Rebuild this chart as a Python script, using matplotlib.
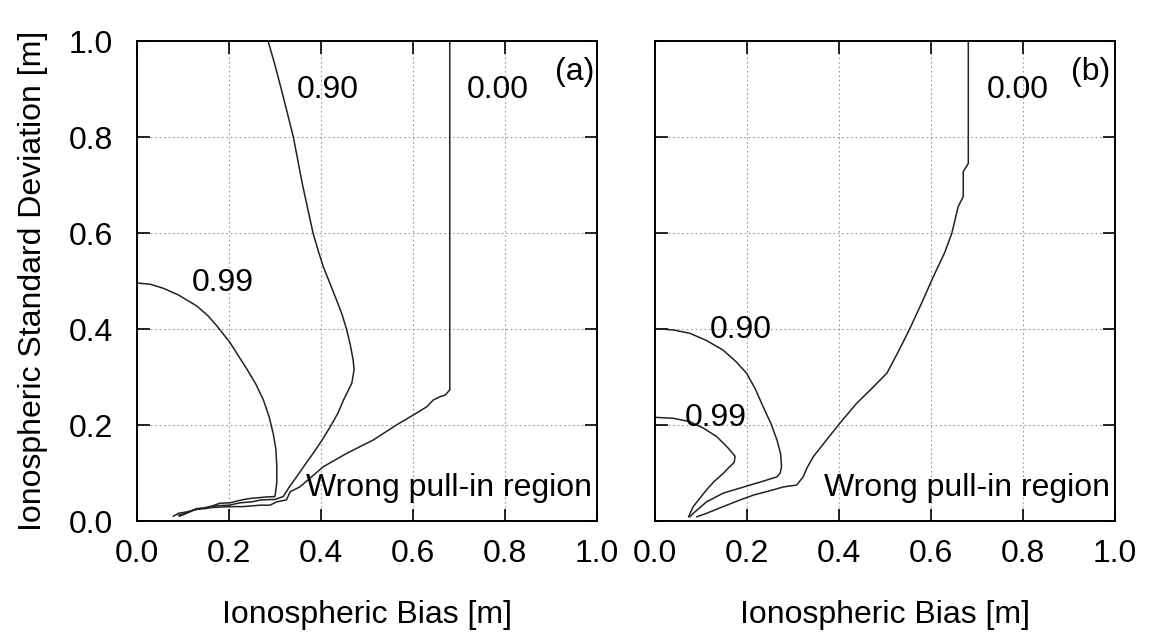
import numpy as np
import matplotlib.pyplot as plt

plt.rcParams['font.family'] = ['Liberation Sans', 'DejaVu Sans']
plt.rcParams['font.size'] = 23

# panel (a) curves
a_099_x = [0.0, 0.030, 0.057, 0.090, 0.130, 0.155, 0.175, 0.202, 0.238, 0.258,
           0.275, 0.287, 0.296, 0.302, 0.304, 0.304, 0.300,
           0.280, 0.246, 0.228, 0.202, 0.180, 0.162, 0.130, 0.108, 0.090, 0.079]
a_099_y = [0.496, 0.493, 0.485, 0.471, 0.448, 0.427, 0.405, 0.372, 0.318, 0.286,
           0.252, 0.218, 0.183, 0.150, 0.113, 0.080, 0.051,
           0.050, 0.047, 0.044, 0.038, 0.037, 0.031, 0.024, 0.019, 0.016, 0.010]

a_090_x = [0.285, 0.300, 0.318, 0.340, 0.360, 0.383, 0.395, 0.405, 0.434, 0.446,
           0.456, 0.464, 0.470, 0.472, 0.467, 0.449, 0.437, 0.420, 0.402, 0.383,
           0.365, 0.347, 0.332, 0.318, 0.300, 0.270, 0.250, 0.225, 0.200, 0.175,
           0.150, 0.125, 0.105, 0.090]
a_090_y = [1.0, 0.950, 0.884, 0.800, 0.700, 0.599, 0.560, 0.530, 0.460, 0.430,
           0.398, 0.366, 0.335, 0.315, 0.287, 0.252, 0.225, 0.196, 0.168, 0.141,
           0.117, 0.092, 0.072, 0.051, 0.045, 0.044, 0.040, 0.038, 0.033, 0.032,
           0.026, 0.024, 0.016, 0.012]

a_000_x = [0.680, 0.680, 0.670, 0.659, 0.644, 0.630, 0.601, 0.564, 0.514, 0.456,
           0.405, 0.354, 0.333, 0.325, 0.304, 0.289, 0.268, 0.230, 0.202, 0.160,
           0.130, 0.115, 0.093]
a_000_y = [1.0, 0.273, 0.2625, 0.259, 0.252, 0.238, 0.221, 0.200, 0.169, 0.141,
           0.113, 0.071, 0.061, 0.044, 0.040, 0.033, 0.033, 0.030, 0.030, 0.028,
           0.026, 0.019, 0.010]

# panel (b) curves
b_000_x = [0.681, 0.681, 0.670, 0.670, 0.659, 0.652, 0.645, 0.630, 0.605, 0.580,
           0.554, 0.530, 0.504, 0.470, 0.438, 0.402, 0.372, 0.344, 0.330, 0.322,
           0.308, 0.279, 0.257, 0.214, 0.185, 0.148, 0.112, 0.091]
b_000_y = [1.0, 0.745, 0.728, 0.676, 0.655, 0.627, 0.599, 0.560, 0.509, 0.455,
           0.401, 0.355, 0.308, 0.275, 0.245, 0.204, 0.168, 0.134, 0.110, 0.092,
           0.075, 0.071, 0.065, 0.054, 0.044, 0.030, 0.016, 0.009]

b_090_x = [0.0, 0.040, 0.076, 0.112, 0.148, 0.175, 0.199, 0.218, 0.235, 0.252,
           0.265, 0.273, 0.275, 0.272, 0.265, 0.235, 0.207, 0.148, 0.112, 0.083,
           0.076]
b_090_y = [0.401, 0.398, 0.391, 0.376, 0.356, 0.333, 0.308, 0.275, 0.238, 0.203,
           0.169, 0.140, 0.113, 0.100, 0.092, 0.083, 0.075, 0.058, 0.040, 0.016,
           0.009]

b_099_x = [0.0, 0.040, 0.076, 0.106, 0.134, 0.158, 0.174, 0.172, 0.160, 0.148,
           0.128, 0.112, 0.097, 0.083, 0.073]
b_099_y = [0.216, 0.214, 0.207, 0.193, 0.176, 0.153, 0.135, 0.122, 0.111, 0.099,
           0.082, 0.065, 0.047, 0.030, 0.009]

ticks = [0.0, 0.2, 0.4, 0.6, 0.8, 1.0]
tick_labels = ['0.0', '0.2', '0.4', '0.6', '0.8', '1.0']

fig = plt.figure(figsize=(11.5, 6.32), dpi=100)
ax_a = fig.add_axes([0.1191, 0.1756, 0.4, 0.7595])
ax_b = fig.add_axes([0.5696, 0.1756, 0.4, 0.7595])

line_kw = dict(color='#222222', lw=1.1)

ax_a.plot(a_099_x, a_099_y, **line_kw)
ax_a.plot(a_090_x, a_090_y, **line_kw)
ax_a.plot(a_000_x, a_000_y, **line_kw)
ax_b.plot(b_000_x, b_000_y, **line_kw)
ax_b.plot(b_090_x, b_090_y, **line_kw)
ax_b.plot(b_099_x, b_099_y, **line_kw)

ax_a.text(0.187, 0.496, '0.99', ha='center', va='center')
ax_a.text(0.415, 0.898, '0.90', ha='center', va='center')
ax_a.text(0.785, 0.898, '0.00', ha='center', va='center')
ax_a.text(0.952, 0.935, '(a)', ha='center', va='center')
ax_a.text(0.990, 0.069, 'Wrong pull-in region', ha='right', va='center')

ax_b.text(0.187, 0.398, '0.90', ha='center', va='center')
ax_b.text(0.133, 0.215, '0.99', ha='center', va='center')
ax_b.text(0.789, 0.898, '0.00', ha='center', va='center')
ax_b.text(0.946, 0.935, '(b)', ha='center', va='center')
ax_b.text(0.990, 0.069, 'Wrong pull-in region', ha='right', va='center')

for ax in (ax_a, ax_b):
    ax.set_xlim(0, 1)
    ax.set_ylim(0, 1)
    ax.set_xticks(ticks)
    ax.set_xticklabels(tick_labels)
    ax.set_yticks(ticks)
    ax.grid(True, color='#999999', linestyle=(0, (1.5, 2.5)), lw=0.8)
    ax.tick_params(direction='in', length=9, width=1.2, top=True, right=True)
    ax.tick_params(axis='x', pad=13)
    ax.tick_params(axis='y', pad=17)
    for s in ax.spines.values():
        s.set_linewidth(1.4)
    ax.set_xlabel('Ionospheric Bias [m]', labelpad=22)

ax_a.set_yticklabels(tick_labels)
ax_b.set_yticklabels([])
ax_a.set_ylabel('Ionospheric Standard Deviation [m]', labelpad=15)

fig.savefig('out.png', dpi=100)
